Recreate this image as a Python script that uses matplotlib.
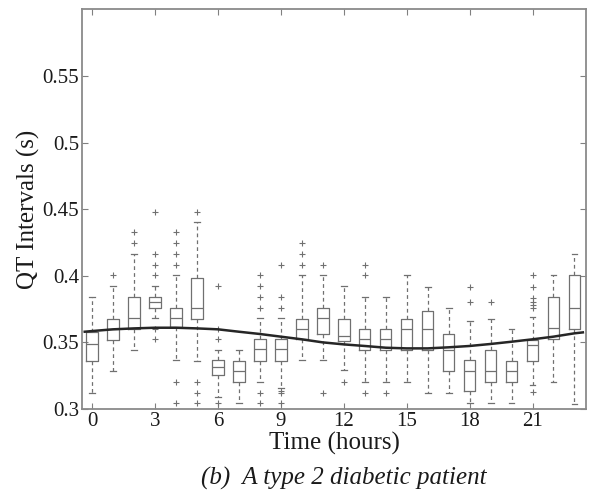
import matplotlib
matplotlib.use("Agg")
import matplotlib.pyplot as plt

plt.rcParams['font.family'] = ['Liberation Serif', 'DejaVu Serif']
plt.rcParams['mathtext.fontset'] = 'stix'

hours = list(range(24))
q1 = [0.336, 0.352, 0.3602, 0.376, 0.3613, 0.3675, 0.3255, 0.320, 0.336, 0.336,
      0.3523, 0.3563, 0.3513, 0.3443, 0.3443, 0.3443, 0.3443, 0.3285, 0.3135, 0.3205,
      0.3205, 0.3362, 0.3523, 0.3598]
med = [0.3485, 0.3598, 0.368, 0.380, 0.368, 0.376, 0.3312, 0.3285, 0.3448, 0.3448,
       0.3598, 0.368, 0.3548, 0.3523, 0.3523, 0.360, 0.360, 0.3443, 0.3285, 0.3285,
       0.3285, 0.348, 0.3605, 0.376]
q3 = [0.358, 0.3677, 0.3838, 0.3842, 0.376, 0.3985, 0.3368, 0.3362, 0.3525, 0.3523,
      0.3675, 0.376, 0.3675, 0.360, 0.360, 0.3675, 0.3737, 0.356, 0.3368, 0.3443,
      0.3362, 0.3518, 0.3838, 0.4005]
whislo = [0.3122, 0.3287, 0.3442, 0.368, 0.3368, 0.3362, 0.309, 0.3043, 0.3205, 0.316,
          0.3368, 0.3368, 0.329, 0.3205, 0.3205, 0.3205, 0.3118, 0.3118, 0.3043, 0.3043,
          0.3043, 0.318, 0.3205, 0.3038]
whishi = [0.3838, 0.3925, 0.416, 0.3925, 0.4005, 0.440, 0.3443, 0.3443, 0.368, 0.368,
          0.4005, 0.4005, 0.3925, 0.3838, 0.3838, 0.4005, 0.3918, 0.3755, 0.3662, 0.3675,
          0.3598, 0.3693, 0.4005, 0.416]
fliers = [
    [],
    [0.4005],
    [0.4243, 0.4325],
    [0.4005, 0.408, 0.416, 0.448, 0.360, 0.3523],
    [0.408, 0.416, 0.4243, 0.4325, 0.3205, 0.3043],
    [0.448, 0.320, 0.3122, 0.3043],
    [0.3925, 0.360, 0.3523, 0.3043],
    [],
    [0.376, 0.3842, 0.3925, 0.4005, 0.3122, 0.3043],
    [0.376, 0.3842, 0.408, 0.3133, 0.3122, 0.3043],
    [0.408, 0.416, 0.4243],
    [0.408, 0.3122],
    [0.3205],
    [0.4005, 0.408, 0.3122],
    [0.3122],
    [],
    [],
    [],
    [0.380, 0.3918],
    [0.380],
    [],
    [0.3755, 0.378, 0.380, 0.383, 0.3918, 0.4005, 0.313],
    [],
    [],
]

curve_t = [-0.35, 0, 1, 2, 3, 4, 5, 6, 7, 8, 9, 10, 11, 12, 13, 14, 15, 16, 17, 18,
           19, 20, 21, 22, 23, 23.4]
curve_v = [0.3580, 0.3585, 0.3598, 0.3605, 0.3610, 0.3610, 0.3605, 0.3598, 0.3580,
           0.3563, 0.3543, 0.3523, 0.3500, 0.3485, 0.3473, 0.3460, 0.3455, 0.3455,
           0.3463, 0.3473, 0.3488, 0.3505, 0.3523, 0.3543, 0.3568, 0.3575]

xticks = [0, 3, 6, 9, 12, 15, 18, 21]
yticks = [0.3, 0.35, 0.4, 0.45, 0.5, 0.55]
ytick_labels = ['0.3', '0.35', '0.4', '0.45', '0.5', '0.55']

fig = plt.figure(figsize=(5.91, 5.01), dpi=100)
ax = fig.add_axes([82/591, 1 - 409/501, (586 - 82)/591, (409 - 9.3)/501])

stats = []
for i in range(len(hours)):
    stats.append(dict(med=med[i], q1=q1[i], q3=q3[i], whislo=whislo[i],
                      whishi=whishi[i], fliers=fliers[i]))

gray = '#707070'
ax.bxp(stats, positions=hours, widths=0.55, showfliers=True, manage_ticks=False,
       boxprops=dict(color=gray, linewidth=0.9),
       medianprops=dict(color=gray, linewidth=0.9),
       whiskerprops=dict(color=gray, linewidth=0.9, linestyle=(0, (3, 2.5))),
       capprops=dict(color=gray, linewidth=0.9),
       capwidths=0.28,
       flierprops=dict(marker='+', markeredgecolor=gray, markersize=5,
                       markeredgewidth=0.8, linestyle='none'))

ax.plot(curve_t, curve_v, color='#262626', linewidth=1.8, zorder=5)

ax.set_xlim(-0.48, 23.55)
ax.set_ylim(0.3, 0.6)
ax.set_xticks(xticks)
ax.set_xticklabels([str(t) for t in xticks])
ax.set_yticks(yticks)
ax.set_yticklabels(ytick_labels)
ax.tick_params(direction='in', top=True, right=True, length=4, width=0.8,
               colors='#808080', labelcolor='#1a1a1a', labelsize=15, pad=2)
for s in ax.spines.values():
    s.set_color('#8a8a8a')
    s.set_linewidth(1.3)

ax.set_xlabel('Time (hours)', fontsize=18, color='#1a1a1a', labelpad=1)
ax.set_ylabel('QT Intervals (s)', fontsize=18, color='#1a1a1a', labelpad=2)

fig.text(0.582, 0.045, '(b)  A type 2 diabetic patient', fontsize=18,
         style='italic', ha='center', va='center', color='#1a1a1a')

fig.savefig('out.png', dpi=100)
